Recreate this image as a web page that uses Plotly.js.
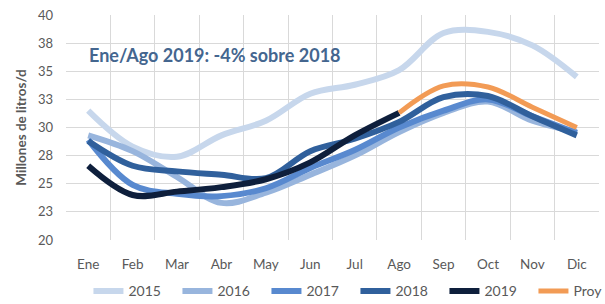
<!DOCTYPE html>
<html>
<head>
<meta charset="utf-8">
<script src="https://cdn.plot.ly/plotly-3.0.1.min.js"></script>
<style>html,body{margin:0;padding:0;background:#fff;}#chart{width:605px;height:304px;}</style>
</head>
<body>
<div id="chart"></div>
<script>
var months = ["Ene","Feb","Mar","Abr","May","Jun","Jul","Ago","Sep","Oct","Nov","Dic"];
var y2015 = [31.5, 28.3, 27.4, 29.3, 30.6, 33.0, 33.8, 35.1, 38.4, 38.5, 37.3, 34.5];
var y2016 = [29.3, 27.9, 25.6, 23.3, 24.2, 25.8, 27.5, 29.6, 31.3, 32.3, 30.6, 29.6];
var y2017 = [28.9, 24.9, 24.1, 23.9, 24.6, 26.4, 28.0, 30.0, 31.5, 32.5, 31.0, 29.5];
var y2018 = [28.8, 26.6, 26.1, 25.8, 25.5, 27.9, 29.0, 30.5, 32.7, 32.8, 31.0, 29.3];
var y2019 = [26.6, 24.0, 24.3, 24.7, 25.4, 26.9, 29.3, 31.3, null, null, null, null];
var yProy = [null, null, null, null, null, null, null, 31.3, 33.7, 33.6, 31.8, 30.0];
var seriesNames = ["2015","2016","2017","2018","2019","Proy"];
var yTickVals = [20, 22.5, 25, 27.5, 30, 32.5, 35, 37.5, 40];
var yTickText = ["20","23","25","28","30","33","35","38","40"];
var noteText = "Ene/Ago 2019: -4% sobre 2018";

var colors = ["#c7d7ec", "#98b5dd", "#5889cf", "#30609c", "#0e1f3c", "#f29b55"];
var widths = [6, 6, 6, 6, 6, 5];
var all = [y2015, y2016, y2017, y2018, y2019, yProy];
var traces = all.map(function(arr, i){
  return {
    x: months, y: arr, name: seriesNames[i], type: "scatter", mode: "lines",
    line: {color: colors[i], width: widths[i], shape: "spline", smoothing: 1},
    connectgaps: false, hoverinfo: "skip"
  };
});

var font = "Lato, 'Open Sans', sans-serif";
var layout = {
  width: 605, height: 304,
  margin: {l: 66, r: 6, t: 15, b: 64, autoexpand: false},
  paper_bgcolor: "#ffffff", plot_bgcolor: "#ffffff",
  font: {family: font, color: "#595959", size: 13},
  showlegend: true,
  legend: {orientation: "h", x: 1.044, xanchor: "right", y: -0.228, yanchor: "middle",
           font: {family: font, size: 14, color: "#595959"}, entrywidth: 44, traceorder: "normal",
           bgcolor: "rgba(0,0,0,0)"},
  xaxis: {type: "category", range: [-0.5, 11.5], tickson: "boundaries", showgrid: true,
          gridcolor: "#d9d9d9", gridwidth: 1, zeroline: false, showline: false, ticks: "",
          ticklabelstandoff: 14,
          tickfont: {family: font, size: 13.5, color: "#595959"}, fixedrange: true},
  yaxis: {range: [20, 40], tickvals: yTickVals, ticktext: yTickText, showgrid: true,
          gridcolor: "#d9d9d9", gridwidth: 1, zeroline: false, showline: false, ticks: "",
          ticklabelstandoff: 12, tickfont: {family: font, size: 13, color: "#595959"},
          title: {text: "<b>Millones de litros/d</b>", font: {family: font, size: 13.5, color: "#595959"}, standoff: 8},
          fixedrange: true},
  annotations: [{
    xref: "paper", yref: "y", x: 0.04, y: 36.45, xanchor: "left", yanchor: "middle",
    text: "<b>" + noteText + "</b>", showarrow: false,
    font: {family: font, size: 18, color: "#44668f"}
  }]
};
Plotly.newPlot("chart", traces, layout, {displayModeBar: false, staticPlot: true});
</script>
</body>
</html>
